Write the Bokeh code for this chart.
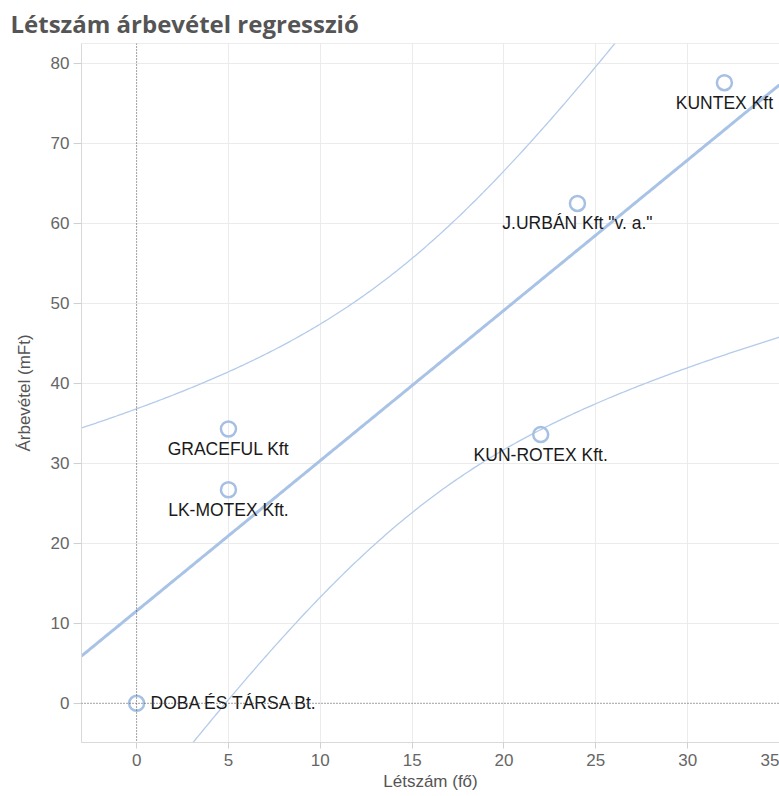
import numpy as np
from bokeh.plotting import figure
from bokeh.models import ColumnDataSource, Span, FixedTicker, Range1d
from bokeh.core.properties import value
from bokeh.embed import file_html
from bokeh.resources import INLINE

# ---- data ----
cegek = ["DOBA ÉS TÁRSA Bt.", "GRACEFUL Kft", "LK-MOTEX Kft.",
         "KUN-ROTEX Kft.", 'J.URBÁN Kft "v. a."', "KUNTEX Kft"]
letszam = [0, 5, 5, 22, 24, 32]
arbevetel = [0.0, 34.3, 26.7, 33.6, 62.5, 77.6]
x_ticks = [0, 5, 10, 15, 20, 25, 30, 35]
y_ticks = [0, 10, 20, 30, 40, 50, 60, 70, 80]

# label placement (style)
label_align = ["left", "center", "center", "center", "center", "center"]
label_dx = [14, 0, 0, 0, 0, 0]
label_dy = [0, 20, 20, 20, 20, 20]

# ---- linear regression with 95% confidence band of the mean ----
x = np.array(letszam, dtype=float)
y = np.array(arbevetel, dtype=float)
n = len(x)
slope, intercept = np.polyfit(x, y, 1)
resid = y - (intercept + slope * x)
s = np.sqrt((resid ** 2).sum() / (n - 2))
sxx = ((x - x.mean()) ** 2).sum()
T95 = 2.776  # Student t, 0.975, df = 4
x_lo, x_hi = -3.0, 35.0
xs = np.linspace(x_lo, x_hi, 300)
fit = intercept + slope * xs
half = T95 * s * np.sqrt(1.0 / n + (xs - x.mean()) ** 2 / sxx)

p = figure(width=779, height=796,
           x_range=Range1d(x_lo, x_hi), y_range=Range1d(-4.9, 82.5),
           output_backend="svg", toolbar_location=None,
           min_border_left=81, min_border_right=0,
           min_border_top=43, min_border_bottom=54,
           title="Létszám árbevétel regresszió")
p.background_fill_color = "white"
p.border_fill_color = "white"
p.outline_line_color = None

p.title.text_font = "Open Sans"
p.title.text_font_style = "bold"
p.title.text_font_size = "24px"
p.title.text_color = "#555555"
p.title.offset = -71
p.title.standoff = 4
p.title.vertical_align = "top"

# grid
p.xgrid.ticker = FixedTicker(ticks=x_ticks[1:])
p.ygrid.ticker = FixedTicker(ticks=y_ticks[1:])
p.xgrid.grid_line_color = "#ebebeb"
p.ygrid.grid_line_color = "#ebebeb"

# axes
for ax in (p.xaxis[0], p.yaxis[0]):
    ax.axis_line_color = "#d9d9d9"
    ax.major_tick_line_color = "#d0d0d0"
    ax.minor_tick_line_color = None
    ax.major_tick_in = 0
    ax.major_label_text_font = "Liberation Sans"
    ax.major_label_text_font_size = "17px"
    ax.major_label_text_color = "#666666"
    ax.axis_label_text_font = "Liberation Sans"
    ax.axis_label_text_font_size = "17px"
    ax.axis_label_text_font_style = "normal"
    ax.axis_label_text_color = "#555555"

p.xaxis.ticker = FixedTicker(ticks=x_ticks)
p.yaxis.ticker = FixedTicker(ticks=y_ticks)
p.xaxis.major_tick_out = 6
p.yaxis.major_tick_out = 8
p.xaxis.major_label_standoff = 5
p.yaxis.major_label_standoff = 4
p.xaxis.axis_label = "Létszám (fő)"
p.yaxis.axis_label = "Árbevétel (mFt)"
p.xaxis.axis_label_standoff = 3
p.yaxis.axis_label_standoff = 14

# top frame border
p.add_layout(Span(location=82.5, dimension="width", line_color="#d9d9d9", line_width=1))

# zero lines
p.add_layout(Span(location=0, dimension="height", line_color="#444444",
                  line_width=1, line_dash="1 2"))
p.add_layout(Span(location=0, dimension="width", line_color="#444444",
                  line_width=1, line_dash="1 2"))

# confidence band and regression line
p.line(xs, fit + half, line_color="#b4cbea", line_width=1.3)
p.line(xs, fit - half, line_color="#b4cbea", line_width=1.3)
p.line(xs, fit, line_color="#a9c3e6", line_width=3)

# points
src = ColumnDataSource(dict(x=letszam, y=arbevetel, name=cegek,
                            align=label_align, dx=label_dx, dy=label_dy))
p.scatter("x", "y", source=src, marker="circle", size=15, fill_color=None,
          line_color="#a6c0e4", line_width=2.5)
p.text("x", "y", text="name", source=src, text_align="align",
       x_offset="dx", y_offset="dy", text_baseline="middle",
       text_font=value("Liberation Sans"), text_font_size="17.5px",
       text_color="#1a1a1a")

open("out.html", "w").write(file_html(p, INLINE))
